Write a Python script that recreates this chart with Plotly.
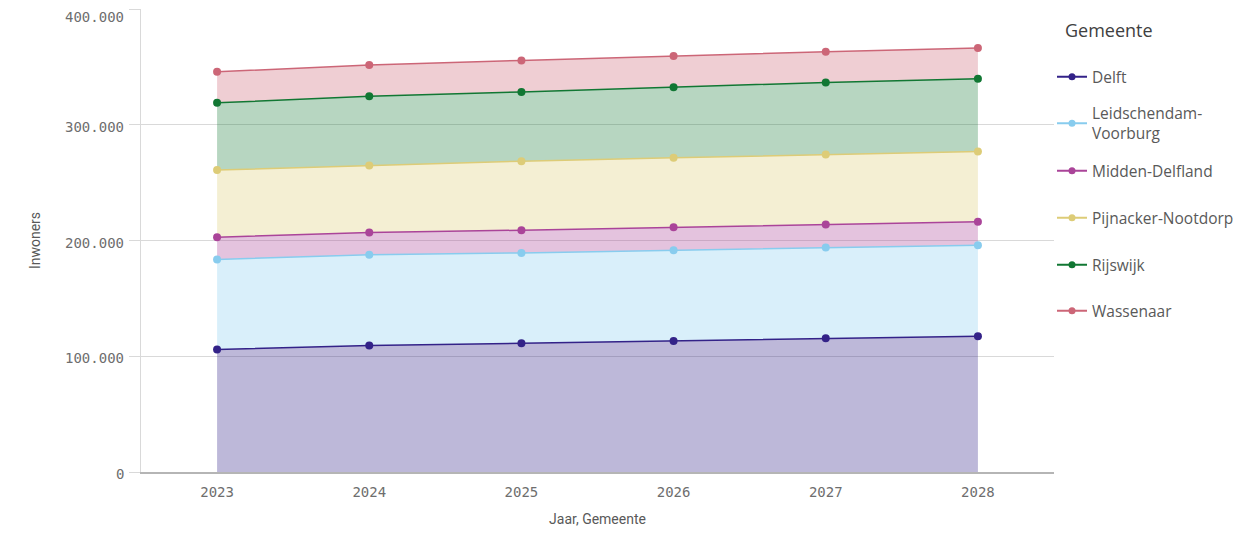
import plotly.graph_objects as go

years = ["2023", "2024", "2025", "2026", "2027", "2028"]
gemeenten = ["Delft", "Leidschendam-Voorburg", "Midden-Delfland", "Pijnacker-Nootdorp", "Rijswijk", "Wassenaar"]
legend_labels = ["Delft", "Leidschendam-<br>Voorburg", "Midden-Delfland", "Pijnacker-Nootdorp", "Rijswijk", "Wassenaar"]

delft = [105800, 109200, 111200, 113200, 115600, 117300]
leidschendam = [77800, 78400, 78100, 78400, 78300, 78600]
midden_delfland = [19300, 19300, 19600, 19900, 19900, 20200]
pijnacker = [57900, 57900, 59600, 59900, 60500, 60800]
rijswijk = [58100, 59900, 59900, 61100, 62300, 62800]
wassenaar = [26800, 27000, 27200, 26900, 26500, 26500]

series = [delft, leidschendam, midden_delfland, pijnacker, rijswijk, wassenaar]
line_colors = ["#332288", "#88CCEE", "#AA4499", "#DDCC77", "#117733", "#CC6677"]
fill_colors = ["rgba(51,34,136,0.32)", "rgba(136,204,238,0.32)", "rgba(170,68,153,0.32)",
               "rgba(221,204,119,0.32)", "rgba(17,119,51,0.30)", "rgba(204,102,119,0.32)"]

y_ticks = [0, 100000, 200000, 300000, 400000]
y_tick_text = ["0", "100.000", "200.000", "300.000", "400.000"]

x_vals = [int(y) for y in years]

W, H = 1232, 519
ML, MR, MT, MB = 133, 176, 1, 55

# target plot area on the page (pixels)
P_LEFT, P_RIGHT, P_TOP, P_BOTTOM = 141, 1056, 8.9, 471.7


def px_x(x):
    return (x - P_LEFT) / (P_RIGHT - P_LEFT)


def px_y(y):
    return 1 - (y - P_TOP) / (P_BOTTOM - P_TOP)


fig = go.Figure()
for name, vals, lc, fc in zip(gemeenten, series, line_colors, fill_colors):
    fig.add_trace(go.Scatter(
        x=x_vals, y=vals, name=name, stackgroup="one",
        mode="lines+markers", line=dict(color=lc, width=1.5),
        marker=dict(color=lc, size=8), fillcolor=fc, showlegend=False,
    ))

legend_centers = [77, 123.5, 171, 218, 265, 311]
legend_font = dict(family="Open Sans", size=15.5, color="#595959")
layout_legends = {}
for i, (name, label, lc) in enumerate(zip(gemeenten, legend_labels, line_colors)):
    key = "legend" if i == 0 else f"legend{i + 1}"
    fig.add_trace(go.Scatter(
        x=[None], y=[None], name=label, mode="lines+markers",
        line=dict(color=lc, width=2), marker=dict(color=lc, size=7),
        legend=key, showlegend=True,
    ))
    layout_legends[key] = dict(
        x=px_x(1054), xanchor="left", y=px_y(legend_centers[i]), yanchor="middle",
        font=legend_font, itemwidth=30, bgcolor="rgba(0,0,0,0)",
    )

mono = "DejaVu Sans Mono"
annotations = [dict(
    text="Gemeente", x=px_x(1065), xref="paper", xanchor="left",
    y=px_y(30), yref="paper", yanchor="middle", showarrow=False,
    font=dict(family="Open Sans", size=18, color="#404040"),
)]
for v, t in zip(y_ticks, y_tick_text):
    annotations.append(dict(
        text=t, x=0, xref="paper", xanchor="right", xshift=-15,
        y=v, yref="y", yanchor="middle", yshift=(-8 if v == max(y_ticks) else -2),
        showarrow=False, font=dict(family=mono, size=14, color="#6e6e6e"),
    ))

fig.update_layout(
    width=W, height=H,
    margin=dict(l=ML, r=MR, t=MT, b=MB),
    plot_bgcolor="white", paper_bgcolor="white",
    font=dict(family="Open Sans", color="#595959"),
    annotations=annotations,
    xaxis=dict(
        range=[2022.5, 2028.5], tickvals=x_vals, ticktext=years,
        showgrid=False, showline=True, linecolor="#b5b5b5", linewidth=1.5,
        ticks="outside", ticklen=6, tickcolor="rgba(0,0,0,0)",
        tickfont=dict(family=mono, size=14, color="#6e6e6e"),
        title=dict(text="Jaar, Gemeente", font=dict(family="Roboto", size=14, color="#595959"), standoff=19),
        zeroline=False, automargin=False,
    ),
    yaxis=dict(
        range=[0, 400000], tickvals=y_ticks, showticklabels=False,
        showgrid=True, gridcolor="#d9d9d9", gridwidth=1,
        showline=True, linecolor="#d9d9d9", linewidth=1,
        ticks="outside", ticklen=11, tickcolor="#d9d9d9",
        title=dict(text="Inwoners", font=dict(family="Roboto", size=14, color="#595959"), standoff=85),
        zeroline=False, automargin=False,
    ),
    **layout_legends,
)

fig.write_html("out.html")
